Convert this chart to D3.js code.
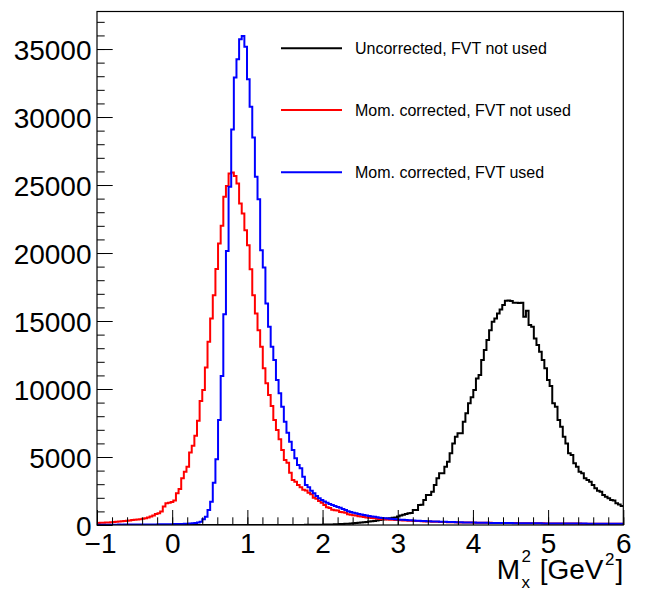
<!DOCTYPE html>
<html><head><meta charset="utf-8">
<script src="https://cdn.jsdelivr.net/npm/d3@7"></script>
<style>
body{margin:0;background:#fff;}
svg{display:block;font-family:"Liberation Sans",Arial,Helvetica,sans-serif;}
</style></head><body>
<svg id="c" width="647" height="591"></svg>
<script>
// ---- data ----
const xMin = -1, xMax = 6, nBins = 200;
const yMax = 37760;
const xTicks = [-1, 0, 1, 2, 3, 4, 5, 6];
const xTickLabels = ["\u22121", "0", "1", "2", "3", "4", "5", "6"];
const yTicks = [0, 5000, 10000, 15000, 20000, 25000, 30000, 35000];
const yTickLabels = ["0", "5000", "10000", "15000", "20000", "25000", "30000", "35000"];
const seriesNames = ["Uncorrected, FVT not used", "Mom. corrected, FVT not used", "Mom. corrected, FVT used"];
const seriesColors = ["#000000", "#ff0000", "#0000ff"];

const uncorrected = [
0,0,0,0,0,0,0,0,0,0,
0,0,0,0,0,0,0,0,0,0,
0,0,0,0,0,0,0,0,0,0,
0,0,0,0,0,0,0,0,0,0,
0,0,0,0,0,0,0,0,0,0,
0,0,0,0,0,0,0,0,0,0,
0,0,0,0,0,0,1,1,1,2,
2,3,3,4,5,5,6,8,9,10,
12,14,16,18,20,24,28,33,38,45,
52,58,66,75,88,100,115,130,148,165,
185,200,225,250,280,300,330,370,400,430,
470,500,530,560,620,700,760,800,860,880,
1100,1110,1470,1480,1840,2200,2210,2450,2940,3430,
3800,3810,4290,4650,5270,6000,6490,6740,6750,7590,
8210,8950,9390,9920,10780,11030,12130,12860,13600,14330,
14940,15190,15560,15850,16170,16490,16500,16480,16340,16350,
16330,16340,15310,15750,14700,14580,13720,13230,12740,12130,
11520,10660,10220,8950,8700,7720,7230,6490,6000,5270,
5150,4540,4290,3920,3800,3430,3310,3180,2940,2700,
2520,2450,2200,2080,1960,1840,1800,1600,1500,1400];

const momCorrNoFVT = [
150,160,165,175,185,205,225,245,255,280,
300,315,340,365,380,400,430,465,495,560,
630,690,810,860,1000,1360,1600,1630,1700,1800,
2330,2650,3430,3920,4290,5340,5830,6570,7670,9110,
9920,11590,13470,15190,16900,18820,20700,22000,24130,24920,
25850,25920,25670,25120,23650,22910,21680,20580,18800,16900,
15560,14330,13100,11520,10420,9560,8750,7720,6980,6300,
5510,4780,4580,3850,3310,3180,2940,2770,2600,2540,
2380,2260,2000,1930,1770,1640,1470,1300,1250,1120,
1090,1060,950,930,900,790,760,720,690,650,
620,590,560,540,510,490,470,450,430,420,
400,395,380,370,360,350,340,330,320,310,
300,295,285,275,265,260,250,245,235,230,
225,220,215,210,205,200,195,192,188,184,
180,178,175,172,170,167,165,162,160,158,
155,153,150,149,147,145,143,141,140,138,
136,134,132,131,129,127,126,124,122,121,
119,118,116,115,113,112,111,109,108,107,
105,104,103,102,100,99,98,97,96,95,
94,93,92,91,90,89,88,87,86,85];

const momCorrFVT = [
20,22,20,24,22,25,24,26,28,27,
30,29,32,31,34,35,34,37,38,40,
42,41,45,47,50,52,55,58,62,66,
70,75,82,90,98,110,125,150,185,245,
420,610,1100,1710,3110,4830,7720,10950,15490,20140,
24870,29080,32900,34250,35720,35960,35160,32780,30750,28500,
25600,23960,20210,18940,16290,14580,13100,12130,10660,9680,
8700,7590,6780,6120,5510,4900,4410,4170,3550,2940,
2770,2520,2330,2130,1960,1840,1720,1640,1550,1470,
1400,1330,1260,1180,1100,1020,960,910,860,810,
770,730,690,660,630,600,570,540,510,490,
470,455,440,425,410,395,380,368,355,343,
330,320,310,300,290,282,274,266,258,250,
245,238,232,226,220,214,208,203,198,193,
188,184,180,176,172,168,165,162,159,156,
153,150,148,146,144,142,140,138,136,134,
132,130,129,127,126,124,123,121,120,119,
117,116,115,114,113,112,111,110,109,108,
107,106,105,104,103,102,101,100,99,98,
97,96,95,94,93,92,91,90,89,88];

const allSeries = [uncorrected, momCorrNoFVT, momCorrFVT];

// ---- layout ----
const frame = {left: 97, right: 623.3, top: 11.5, bottom: 525};
const svg = d3.select("#c");
const x = d3.scaleLinear().domain([xMin, xMax]).range([frame.left, frame.right]);
const y = d3.scaleLinear().domain([0, yMax]).range([frame.bottom, frame.top]);
const bw = (xMax - xMin) / nBins;

svg.append("defs").append("clipPath").attr("id", "fclip")
  .append("rect").attr("x", frame.left).attr("y", frame.top)
  .attr("width", frame.right - frame.left).attr("height", frame.bottom - frame.top);

// histograms
const line = d3.line().x(d => x(d[0])).y(d => y(d[1])).curve(d3.curveStepAfter);
const hg = svg.append("g").attr("clip-path", "url(#fclip)");
allSeries.forEach((vals, s) => {
  const pts = vals.map((v, i) => [xMin + i * bw, v]);
  pts.push([xMax, vals[vals.length - 1]]);
  hg.append("path").attr("d", line(pts)).attr("fill", "none")
    .attr("stroke", seriesColors[s]).attr("stroke-width", 2)
    .attr("stroke-linejoin", "miter");
});

// x axis
const xMinor = d3.range(0, 36).map(i => xMin + i * 0.2);
svg.append("g").attr("transform", `translate(0,${frame.bottom})`)
  .call(d3.axisBottom(x).tickValues(xMinor).tickSize(-7.7).tickFormat(""))
  .call(g => g.select(".domain").remove());
const gx = svg.append("g").attr("transform", `translate(0,${frame.bottom})`)
  .call(d3.axisBottom(x).tickValues(xTicks).tickSize(-15).tickPadding(8)
    .tickFormat((d, i) => xTickLabels[i]))
  .call(g => g.select(".domain").remove());
gx.selectAll("text").attr("font-size", 28).attr("font-family", "Liberation Sans, Arial, sans-serif").attr("fill", "#000");
gx.selectAll(".tick").filter(d => d < 0).select("text").attr("dx", 3);

// y axis
const yMinor = d3.range(0, 38).map(i => i * 1000);
svg.append("g").attr("transform", `translate(${frame.left},0)`)
  .call(d3.axisLeft(y).tickValues(yMinor).tickSize(-7.7).tickFormat(""))
  .call(g => g.select(".domain").remove());
const gy = svg.append("g").attr("transform", `translate(${frame.left},0)`)
  .call(d3.axisLeft(y).tickValues(yTicks).tickSize(-15.7).tickPadding(5.5)
    .tickFormat((d, i) => yTickLabels[i]))
  .call(g => g.select(".domain").remove());
gy.selectAll("text").attr("font-size", 28).attr("dy", "0.36em")
  .attr("font-family", "Liberation Sans, Arial, sans-serif").attr("fill", "#000");

svg.selectAll(".tick line").attr("stroke", "#000").attr("stroke-width", 1);

// frame
svg.append("rect").attr("x", frame.left).attr("y", frame.top)
  .attr("width", frame.right - frame.left).attr("height", frame.bottom - frame.top)
  .attr("fill", "none").attr("stroke", "#000").attr("stroke-width", 1.2);

// axis title M_x^2 [GeV^2], right aligned
const tg = svg.append("g");
const base = 579;
const tM = tg.append("text").attr("font-size", 28).attr("y", base).text("M");
const wM = tM.node().getComputedTextLength();
const tSup1 = tg.append("text").attr("font-size", 17).attr("y", base - 17.5).text("2");
const tSub = tg.append("text").attr("font-size", 17).attr("y", base + 9).text("x");
const wS = Math.max(tSup1.node().getComputedTextLength(), tSub.node().getComputedTextLength());
const tGeV = tg.append("text").attr("font-size", 28).attr("y", base).text("\u00a0[GeV");
const wG = tGeV.node().getComputedTextLength();
const tSup2 = tg.append("text").attr("font-size", 17).attr("y", base - 14.5).text("2");
const wS2 = tSup2.node().getComputedTextLength();
const tB = tg.append("text").attr("font-size", 28).attr("y", base).text("]");
const wB = tB.node().getComputedTextLength();
let cx = frame.right - (wM + 1.5 + wS + 1 + wG + 1.5 + wS2 + 1 + wB);
tM.attr("x", cx); cx += wM + 1.5;
tSup1.attr("x", cx); tSub.attr("x", cx); cx += wS + 1;
tGeV.attr("x", cx); cx += wG + 1.5;
tSup2.attr("x", cx); cx += wS2 + 1;
tB.attr("x", cx);

// legend
const legY = [48.3, 110, 172.3];
const leg = svg.append("g");
seriesNames.forEach((name, i) => {
  leg.append("line").attr("x1", 281).attr("x2", 342).attr("y1", legY[i]).attr("y2", legY[i])
    .attr("stroke", seriesColors[i]).attr("stroke-width", 2);
  leg.append("text").attr("x", 355).attr("y", legY[i]).attr("dy", "0.36em")
    .attr("font-size", 16).attr("fill", "#000").text(name);
});
</script>
</body></html>
